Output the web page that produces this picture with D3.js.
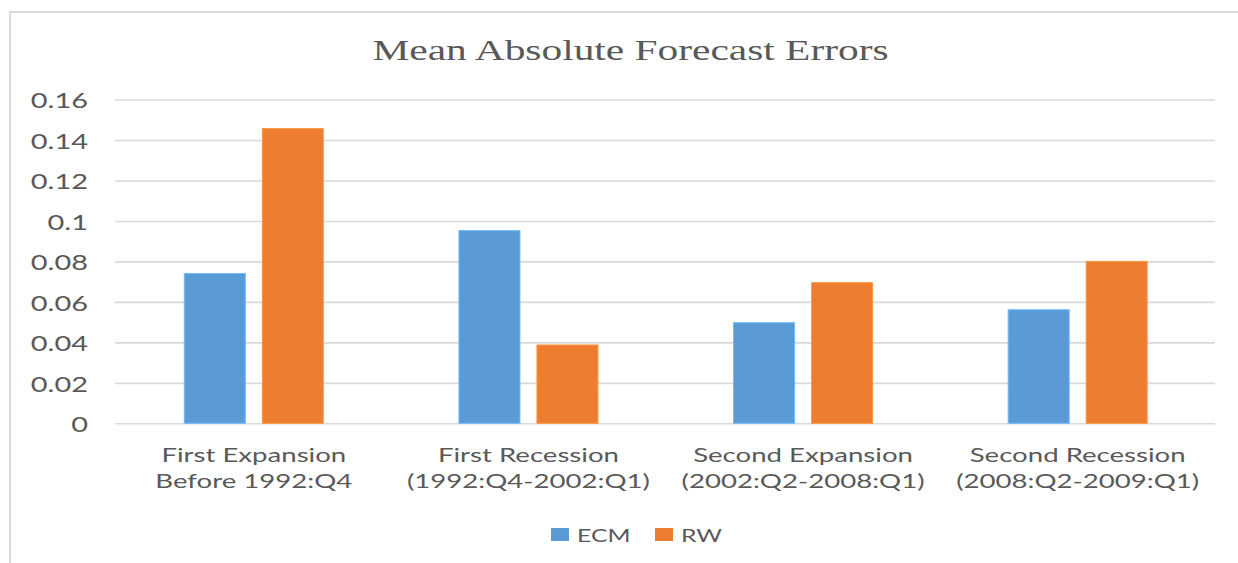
<!DOCTYPE html>
<html>
<head>
<meta charset="utf-8">
<script src="https://cdn.jsdelivr.net/npm/d3@7"></script>
<style>
  body { margin: 0; background: #fff; }
  svg { display: block; }
</style>
</head>
<body>
<svg id="chart" width="1238" height="563"></svg>
<script>
// Mean absolute forecast errors, ECM vs RW, per business-cycle phase
const categories = [
  ['First Expansion', 'Before 1992:Q4'],
  ['First Recession', '(1992:Q4-2002:Q1)'],
  ['Second Expansion', '(2002:Q2-2008:Q1)'],
  ['Second Recession', '(2008:Q2-2009:Q1)']
];
const seriesNames = ['ECM', 'RW'];
const ecmValues = [0.074, 0.0952, 0.0497, 0.0561];
const rwValues = [0.1456, 0.0387, 0.0695, 0.080];
const yTicks = [0, 0.02, 0.04, 0.06, 0.08, 0.1, 0.12, 0.14, 0.16];
const colors = ['#5B9BD5', '#ED7D31'];

// the source picture is stretched sideways, so text is too
const SX = 1.38;
const textGray = '#595959';
const gridGray = '#d9d9d9';

const svg = d3.select('#chart');

// chart frame (only top and left edges fall inside the picture)
svg.append('rect')
  .attr('x', 10).attr('y', 12)
  .attr('width', 1260).attr('height', 600)
  .attr('fill', 'none')
  .attr('stroke', gridGray)
  .attr('stroke-width', 2);

const x = d3.scaleBand()
  .domain(d3.range(categories.length))
  .range([116.5, 1215])
  .padding(0);

const y = d3.scaleLinear()
  .domain([0, 0.16])
  .range([423.3, 99.5]);

// Put text at (px, py), stretched horizontally
function placeText(sel, px, py) {
  return sel.attr('transform', 'translate(' + px + ',' + py + ') scale(' + SX + ',1)');
}

// Gridlines and y labels through a d3 axis
const yAxis = d3.axisLeft(y)
  .tickValues(yTicks)
  .tickSize(-(1215 - 115))
  .tickPadding(0)
  .tickFormat(d => d3.format('~g')(d));

const yg = svg.append('g')
  .attr('transform', 'translate(115,0)')
  .call(yAxis);
yg.select('.domain').remove();
yg.selectAll('.tick line')
  .attr('stroke', gridGray)
  .attr('stroke-width', 1.6);
yg.selectAll('.tick text')
  .attr('x', null)
  .attr('dy', null)
  .attr('fill', textGray)
  .attr('font-family', 'Lato, sans-serif')
  .attr('font-size', 21)
  .attr('text-anchor', 'end')
  .attr('dominant-baseline', 'central')
  .each(function() { placeText(d3.select(this), -27, 0); });

// Bars
const sub = d3.scaleBand()
  .domain(seriesNames)
  .range([0, 139])
  .paddingInner(17 / 78);

const rows = categories.map((c, i) => ({
  i: i,
  values: [ecmValues[i], rwValues[i]]
}));

const groups = svg.append('g').selectAll('g')
  .data(rows)
  .join('g')
  .attr('transform', d => 'translate(' + (x(d.i) + x.bandwidth() / 2 - 69.5) + ',0)');

groups.selectAll('rect')
  .data(d => d.values.map((v, k) => ({ name: seriesNames[k], value: v, k: k })))
  .join('rect')
  .attr('x', d => sub(d.name))
  .attr('width', sub.bandwidth())
  .attr('y', d => y(d.value))
  .attr('height', d => y(0) - y(d.value))
  .attr('fill', d => colors[d.k])
  .attr('stroke', d => d3.color(colors[d.k]).brighter(0.5))
  .attr('stroke-width', 1);

// Category labels, two lines each
const catG = svg.append('g');
categories.forEach((lines, i) => {
  lines.forEach((line, j) => {
    catG.append('text')
      .text(line)
      .attr('fill', textGray)
      .attr('font-family', 'Lato, sans-serif')
      .attr('font-size', 20)
      .attr('text-anchor', 'middle')
      .call(placeText, x(i) + x.bandwidth() / 2, 462 + j * 26);
  });
});

// Title
svg.append('text')
  .text('Mean Absolute Forecast Errors')
  .attr('fill', textGray)
  .attr('font-family', '"Liberation Serif", "Times New Roman", serif')
  .attr('font-size', 30)
  .attr('text-anchor', 'middle')
  .call(placeText, 630.5, 60);

// Legend
const legendX = [551, 655];
seriesNames.forEach((name, k) => {
  svg.append('rect')
    .attr('x', legendX[k]).attr('y', 528)
    .attr('width', 18).attr('height', 13)
    .attr('fill', colors[k]);
  svg.append('text')
    .text(name)
    .attr('fill', textGray)
    .attr('font-family', 'Lato, sans-serif')
    .attr('font-size', 18)
    .attr('dominant-baseline', 'central')
    .call(placeText, legendX[k] + 26, 535);
});
</script>
</body>
</html>
